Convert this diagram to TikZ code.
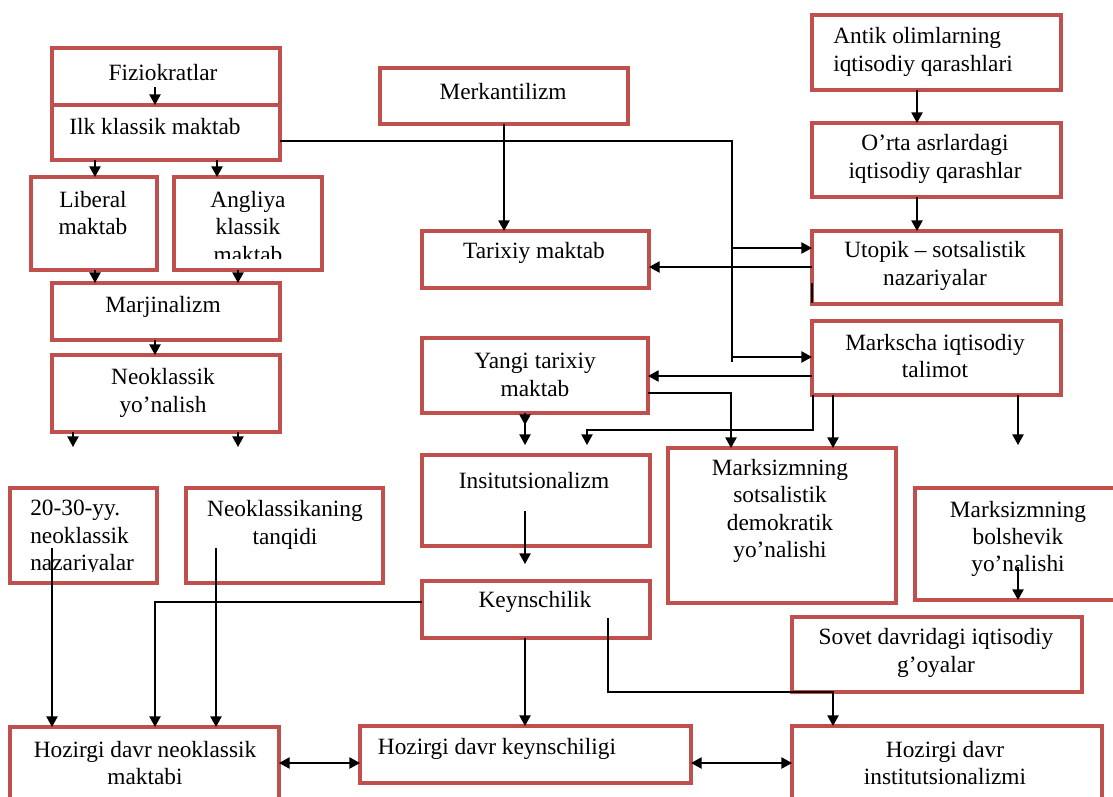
\documentclass[tikz,border=0pt]{standalone}
\usepackage{fontspec}
\setmainfont{Liberation Serif}
\usetikzlibrary{arrows.meta}
\definecolor{boxred}{RGB}{192,80,77}
\tikzset{
  box/.style={draw=boxred, line width=3.6pt, fill=white, inner sep=0pt, outer sep=0pt},
  txt/.style={font=\fontsize{17.5}{20.5}\selectfont, align=center, inner sep=0pt},
  ltxt/.style={txt, align=left, anchor=west},
  conn/.style={line width=1pt, draw=black},
  arr/.style={conn, -{Triangle[width=8.5pt,length=8pt]}},
  darr/.style={conn, {Triangle[width=8.5pt,length=8pt]}-{Triangle[width=8.5pt,length=8pt]}},
}
\newcommand\mybox[5]{\node[box, minimum width={(#4-#2)*0.75pt}, minimum height={(#5-#3)*0.75pt}] (#1) at ({(#2+#4)/2},{(#3+#5)/2}) {};}
\begin{document}
\begin{tikzpicture}[x=0.75pt,y=-0.75pt]
\useasboundingbox (0,0) rectangle (1113,796);
\clip (0,0) rectangle (1113,796);
% boxes
\mybox{fiz}{52}{48}{280}{105}
\mybox{ilk}{52}{105}{280}{160}
\mybox{lib}{31}{177}{157}{270}
\mybox{ang}{174}{177}{322}{270}
\mybox{marj}{52}{283}{280}{340}
\mybox{neo}{52}{355}{280}{432}
\mybox{tw}{10}{488}{157}{583}
\mybox{tanq}{186}{488}{383}{583}
\mybox{hneo}{10}{727}{279}{810}
\mybox{merk}{380}{68}{628}{124}
\mybox{tar}{422}{231}{649}{288}
\mybox{yangi}{422}{338}{648}{413}
\mybox{inst}{422}{455}{650}{546}
\mybox{keyns}{422}{581}{650}{638}
\mybox{hkey}{360}{726}{691}{783}
\mybox{antik}{812}{15}{1061}{90}
\mybox{orta}{812}{123}{1061}{197}
\mybox{utop}{812}{231}{1061}{304}
\mybox{marx}{812}{321}{1061}{395}
\mybox{msd}{668}{448}{896}{603}
\mybox{bol}{915}{488}{1125}{600}
\mybox{sov}{792}{617}{1082}{692}
\mybox{hinst}{792}{726}{1102}{810}
% texts
\node[txt] (tfiz) at (163,73) {Fiziokratlar};
\node[txt] (tilk) at (155,127) {Ilk klassik maktab};
\node[txt] (tlib) at (93,213) {Liberal\\maktab};
\begin{scope}
\clip (176,179) rectangle (320,258);
\node[txt] (tang) at (248,227) {Angliya\\klassik\\maktab};
\end{scope}
\node[txt] (tmarj) at (163,307) {Marjinalizm};
\node[txt] (tneo) at (163,393) {Neoklassik\\yo’nalish};
\begin{scope}
\clip (12,490) rectangle (155,571);
\node[ltxt] (ttw) at (30,538) {20-30-yy.\\neoklassik\\nazariyalar};
\end{scope}
\node[txt] (ttanq) at (285,525) {Neoklassikaning\\tanqidi};
\node[txt] (thneo) at (145,763) {Hozirgi davr neoklassik\\maktabi};
\node[txt] (tmerk) at (503,92) {Merkantilizm};
\node[txt] (ttar) at (534,253) {Tarixiy maktab};
\node[txt] (tyangi) at (535,375) {Yangi tarixiy\\maktab};
\node[txt] (tinst) at (534,481) {Insitutsionalizm};
\node[txt] (tkeyns) at (535,602) {Keynschilik};
\node[txt] (thkey) at (497,749) {Hozirgi davr keynschiligi};
\node[ltxt] (tantik) at (833,52) {Antik olimlarning\\iqtisodiy qarashlari};
\node[txt] (torta) at (935,159) {O’rta asrlardagi\\iqtisodiy qarashlar};
\node[txt] (tutop) at (935,266) {Utopik – sotsalistik\\nazariyalar};
\node[txt] (tmarx) at (935,356) {Markscha iqtisodiy\\talimot};
\node[txt] (tmsd) at (780,511) {Marksizmning\\sotsalistik\\demokratik\\yo’nalishi};
\node[txt] (tbol) at (1018,539) {Marksizmning\\bolshevik\\yo’nalishi};
\node[txt] (tsov) at (936,653) {Sovet davridagi iqtisodiy\\g’oyalar};
\node[txt] (thinst) at (945,763) {Hozirgi davr\\institutsionalizmi};
% connectors left column
\draw[arr] (155,87) -- (155,0 |- ilk.north);
\draw[arr] (95,0 |- ilk.south) -- (95,0 |- lib.north);
\draw[arr] (217,0 |- ilk.south) -- (217,0 |- ang.north);
\draw[arr] (95,0 |- lib.south) -- (95,0 |- marj.north);
\draw[arr] (238,0 |- ang.south) -- (238,0 |- marj.north);
\draw[arr] (155,0 |- marj.south) -- (155,0 |- neo.north);
\coordinate (nf1) at (73,447);
\coordinate (nf2) at (238,447);
\draw[arr] (73,0 |- neo.south) -- (nf1);
\draw[arr] (238,0 |- neo.south) -- (nf2);
% Ilk klassik long line
\draw[conn] (ilk.east |- 0,141) -- (732,141) -- (732,362);
\draw[arr] (732,248) -- (utop.west |- 0,248);
\draw[arr] (732,357) -- (marx.west |- 0,357);
% middle column
\draw[arr] (504,0 |- merk.south) -- (504,0 |- tar.north);
\draw[arr] (utop.west |- 0,267) -- (tar.east |- 0,267);
\draw[conn] (812,283) -- (812,303);
\draw[arr] (917,0 |- antik.south) -- (917,0 |- orta.north);
\draw[arr] (917,0 |- orta.south) -- (917,0 |- utop.north);
\draw[arr] (marx.west |- 0,376) -- (yangi.east |- 0,376);
\draw[arr] (yangi.east |- 0,393) -- (731,393) -- (731,0 |- msd.north);
\draw[arr] (813,0 |- marx.south) -- (813,430) -- (587,430) -- (587,445);
\draw[arr] (833,0 |- marx.south) -- (833,0 |- msd.north);
\coordinate (mf) at (1018,445);
\draw[arr] (1018,0 |- marx.south) -- (mf);
\draw[arr] (525,0 |- yangi.south) -- (525,425);
\draw[arr] (525,0 |- yangi.south) -- (525,445);
\draw[arr] (525,511) -- (525,564);
\draw[arr] (525,0 |- keyns.south) -- (525,0 |- hkey.north);
\draw[arr] (608,618) -- (608,692) -- (833,692) -- (833,0 |- hinst.north);
\draw[arr] (keyns.west |- 0,602) -- (155,602) -- (155,0 |- hneo.north);
\draw[arr] (52,548) -- (52,0 |- hneo.north);
\draw[arr] (216,548) -- (216,0 |- hneo.north);
\draw[arr] (1018,567) -- (1018,0 |- bol.south);
\draw[darr] (hneo.east |- 0,763) -- (hkey.west |- 0,763);
\draw[darr] (hkey.east |- 0,763) -- (hinst.west |- 0,763);
\end{tikzpicture}
\end{document}
